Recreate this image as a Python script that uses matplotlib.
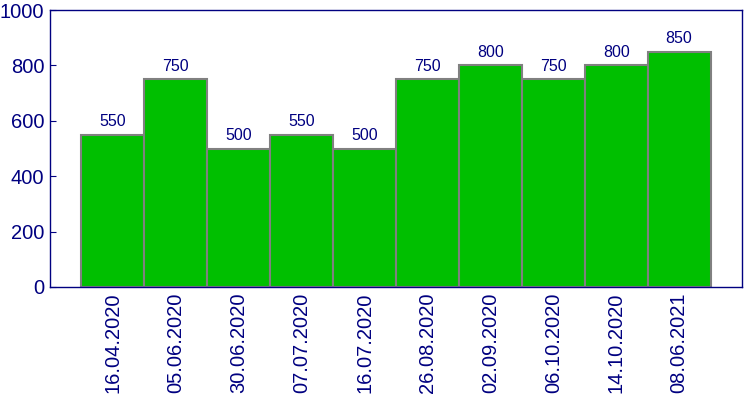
import matplotlib
matplotlib.use("Agg")
import matplotlib.pyplot as plt

plt.rcParams["font.family"] = ["Liberation Sans", "DejaVu Sans"]

# 数据
dates = ["16.04.2020", "05.06.2020", "30.06.2020", "07.07.2020", "16.07.2020",
         "26.08.2020", "02.09.2020", "06.10.2020", "14.10.2020", "08.06.2021"]
values = [550, 750, 500, 550, 500, 750, 800, 750, 800, 850]

navy = "#000080"

fig = plt.figure(figsize=(7.5, 4), dpi=100)
ax = fig.add_axes([50 / 750, 1 - 287 / 400, 692 / 750, 277 / 400])

x = list(range(len(values)))
bars = ax.bar(x, values, width=1.0, color="#00BF00", edgecolor="#808080", linewidth=1.5)

for xi, v in zip(x, values):
    ax.text(xi, v + 20, str(v), ha="center", va="bottom", fontsize=11.5, color=navy)

ax.set_xlim(-1, 10)
ax.set_ylim(0, 1000)
ax.set_yticks([0, 200, 400, 600, 800, 1000])
ax.set_xticks(x)
ax.set_xticklabels(dates, rotation=90, fontsize=14.5, color=navy)
ax.tick_params(axis="y", direction="in", length=4, color=navy, labelcolor=navy, labelsize=14.5, pad=4)
ax.tick_params(axis="x", length=0, pad=4)

for s in ax.spines.values():
    s.set_color(navy)
    s.set_linewidth(1)

fig.savefig("out.png", dpi=100)
